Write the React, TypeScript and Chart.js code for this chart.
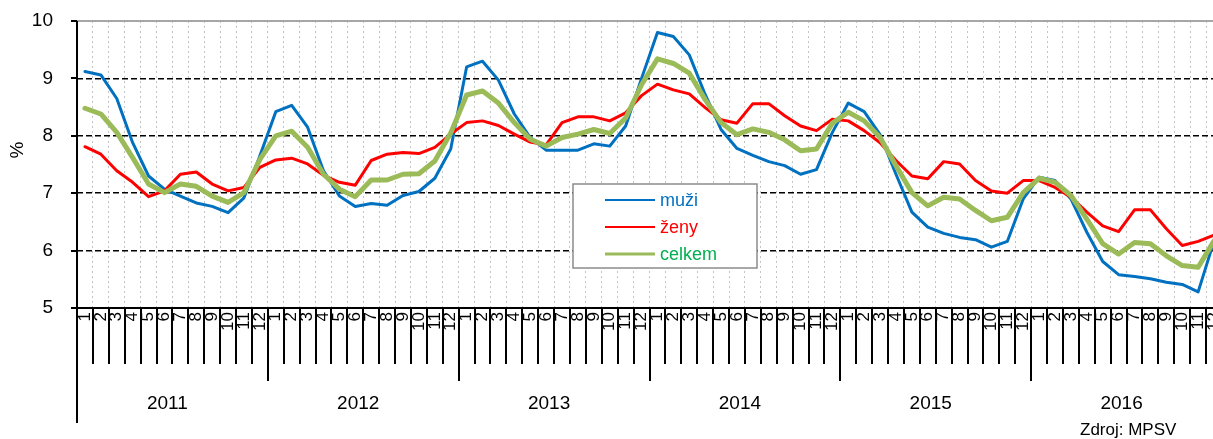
import React, { useEffect, useRef } from 'react';
import { Chart, registerables } from 'chart.js';

Chart.register(...registerables);

const YEARS = ['2011', '2012', '2013', '2014', '2015', '2016'];
const MONTHS = ['1', '2', '3', '4', '5', '6', '7', '8', '9', '10', '11', '12'];

// muži (men), % by month 2011-01 .. 2016-12
const MUZI = [
  9.12, 9.06, 8.65, 7.88, 7.30, 7.07, 6.95, 6.83, 6.77, 6.66, 6.92, 7.65,
  8.42, 8.53, 8.15, 7.39, 6.95, 6.77, 6.82, 6.79, 6.96, 7.03, 7.26, 7.77,
  9.20, 9.30, 8.97, 8.38, 7.97, 7.75, 7.75, 7.75, 7.86, 7.82, 8.17, 9.00,
  9.80, 9.73, 9.41, 8.72, 8.11, 7.78, 7.66, 7.55, 7.48, 7.33, 7.41, 8.06,
  8.57, 8.42, 8.02, 7.33, 6.67, 6.41, 6.30, 6.23, 6.19, 6.06, 6.16, 6.90,
  7.28, 7.22, 6.90, 6.32, 5.81, 5.58, 5.55, 5.51, 5.45, 5.41, 5.28, 6.17,
];
// ženy (women)
const ZENY = [
  7.81, 7.68, 7.39, 7.19, 6.94, 7.04, 7.33, 7.37, 7.16, 7.04, 7.10, 7.45,
  7.58, 7.61, 7.51, 7.31, 7.19, 7.14, 7.57, 7.68, 7.71, 7.69, 7.80, 8.03,
  8.23, 8.26, 8.18, 8.03, 7.89, 7.84, 8.23, 8.33, 8.33, 8.26, 8.40, 8.70,
  8.90, 8.80, 8.73, 8.49, 8.28, 8.22, 8.56, 8.56, 8.35, 8.17, 8.09, 8.29,
  8.26, 8.09, 7.88, 7.57, 7.30, 7.25, 7.55, 7.51, 7.22, 7.04, 7.00, 7.22,
  7.22, 7.10, 6.93, 6.67, 6.43, 6.33, 6.71, 6.71, 6.38, 6.09, 6.16, 6.27,
];
// celkem (total)
const CELKEM = [
  8.48, 8.38, 8.06, 7.62, 7.16, 7.01, 7.16, 7.12, 6.95, 6.84, 7.01, 7.59,
  8.00, 8.08, 7.80, 7.33, 7.07, 6.94, 7.23, 7.23, 7.33, 7.34, 7.56, 8.05,
  8.71, 8.78, 8.57, 8.23, 7.94, 7.82, 7.97, 8.03, 8.11, 8.04, 8.31, 8.89,
  9.34, 9.26, 9.09, 8.63, 8.23, 8.02, 8.12, 8.06, 7.93, 7.74, 7.77, 8.22,
  8.41, 8.26, 7.97, 7.48, 7.01, 6.78, 6.93, 6.90, 6.70, 6.52, 6.58, 7.01,
  7.26, 7.19, 6.96, 6.55, 6.12, 5.94, 6.14, 6.12, 5.91, 5.74, 5.71, 6.17,
];

const SERIES_NAMES = ['muži', 'ženy', 'celkem'];
const Y_MIN = 5;
const Y_MAX = 10;
const Y_STEP = 1;
const Y_TITLE = '%';
const SOURCE = 'Zdroj: MPSV';

const FONT = '"Liberation Sans", Arial, sans-serif';
const BLUE = '#0070C0';
const RED = '#FF0000';
const GREEN = '#9BBB59';
const GREEN_TEXT = '#00B050';

const CATEGORIES = YEARS.flatMap(() => MONTHS);

const decorPlugin = {
  id: 'decor',
  afterDraw(chart: any) {
    const { ctx, chartArea: a } = chart;
    const x = chart.scales.x;
    const y = chart.scales.y;
    const n = CATEGORIES.length;
    const w = (a.right - a.left) / n;
    ctx.save();
    ctx.setLineDash([]);
    // top border line (value 10)
    ctx.strokeStyle = '#a6a6a6';
    ctx.lineWidth = 2;
    ctx.beginPath();
    ctx.moveTo(a.left, a.top);
    ctx.lineTo(a.right, a.top);
    ctx.stroke();
    // x axis line
    ctx.strokeStyle = '#000';
    ctx.lineWidth = 2;
    ctx.beginPath();
    ctx.moveTo(a.left, a.bottom);
    ctx.lineTo(a.right, a.bottom);
    ctx.stroke();
    // y axis line, extended down through the category area
    ctx.beginPath();
    ctx.moveTo(a.left, a.top);
    ctx.lineTo(a.left, 423);
    ctx.stroke();
    // y tick marks
    y.ticks.forEach((t: any) => {
      const yy = Math.round(y.getPixelForValue(t.value));
      ctx.beginPath();
      ctx.moveTo(a.left - 6, yy);
      ctx.lineTo(a.left, yy);
      ctx.stroke();
    });
    // category tick marks
    for (let k = 1; k <= n; k++) {
      const xx = Math.round(a.left + k * w);
      const end = k % MONTHS.length === 0 ? 381 : 364;
      ctx.beginPath();
      ctx.moveTo(xx, a.bottom);
      ctx.lineTo(xx, end);
      ctx.stroke();
    }
    // year labels
    ctx.fillStyle = '#000';
    ctx.font = `19px ${FONT}`;
    ctx.textAlign = 'center';
    ctx.textBaseline = 'middle';
    YEARS.forEach((yr, j) => {
      const first = x.getPixelForValue(j * MONTHS.length);
      const last = x.getPixelForValue(j * MONTHS.length + MONTHS.length - 1);
      ctx.fillText(yr, (first + last) / 2 - 5, 404);
    });
    // y title
    ctx.save();
    ctx.translate(18, 150);
    ctx.rotate(-Math.PI / 2);
    ctx.font = `19px ${FONT}`;
    ctx.fillText(Y_TITLE, 0, 0);
    ctx.restore();
    // source
    ctx.font = `17px ${FONT}`;
    ctx.textAlign = 'left';
    ctx.textBaseline = 'alphabetic';
    ctx.fillText(SOURCE, 1080, 435);
    // legend box
    const bx = 573, by = 184, bw = 184, bh = 84;
    ctx.fillStyle = '#fff';
    ctx.fillRect(bx, by, bw, bh);
    ctx.strokeStyle = '#8c8c8c';
    ctx.lineWidth = 1.5;
    ctx.strokeRect(bx, by, bw, bh);
    const lineColors = [BLUE, RED, GREEN];
    const textColors = [BLUE, RED, GREEN_TEXT];
    const widths = [2, 2, 3];
    SERIES_NAMES.forEach((name, i) => {
      const yy = 200 + i * 27;
      ctx.strokeStyle = lineColors[i];
      ctx.lineWidth = widths[i];
      ctx.beginPath();
      ctx.moveTo(605, yy);
      ctx.lineTo(655, yy);
      ctx.stroke();
      ctx.fillStyle = textColors[i];
      ctx.font = `18px ${FONT}`;
      ctx.textBaseline = 'middle';
      ctx.fillText(name, 660, yy + 1);
    });
    ctx.restore();
  },
};

export default function App() {
  const ref = useRef<HTMLCanvasElement>(null);
  useEffect(() => {
    if (!ref.current) return;
    const chart = new Chart(ref.current, {
      type: 'line',
      data: {
        labels: CATEGORIES,
        datasets: [
          { label: SERIES_NAMES[0], data: MUZI, borderColor: BLUE, borderWidth: 3, order: 2 },
          { label: SERIES_NAMES[1], data: ZENY, borderColor: RED, borderWidth: 3, order: 1 },
          { label: SERIES_NAMES[2], data: CELKEM, borderColor: GREEN, borderWidth: 5, order: 0 },
        ].map((d) => ({
          ...d,
          pointRadius: 0,
          pointHoverRadius: 0,
          tension: 0,
          fill: false,
          borderJoinStyle: 'round' as const,
          borderCapStyle: 'round' as const,
        })),
      },
      options: {
        responsive: false,
        animation: false,
        devicePixelRatio: 1,
        layout: { padding: { top: 21, right: 18, left: 0, bottom: 0 } },
        plugins: {
          legend: { display: false },
          title: { display: false },
          tooltip: { enabled: false },
        },
        scales: {
          x: {
            type: 'category',
            offset: true,
            grid: {
              offset: true,
              drawTicks: false,
              color: '#c4c4c4',
              lineWidth: 1,
            },
            border: { display: false, dash: [2, 3] },
            ticks: {
              autoSkip: false,
              minRotation: 90,
              maxRotation: 90,
              padding: 4,
              color: '#000',
              font: { family: FONT, size: 17 },
            },
            afterFit: (s: any) => {
              s.height = 131;
            },
          },
          y: {
            min: Y_MIN,
            max: Y_MAX,
            ticks: {
              stepSize: Y_STEP,
              padding: 0,
              color: '#000',
              font: { family: FONT, size: 19 },
            },
            grid: {
              color: (c: any) =>
                c.tick && (c.tick.value === Y_MAX || c.tick.value === Y_MIN) ? 'rgba(0,0,0,0)' : '#000',
              lineWidth: 1.5,
              tickLength: 24,
              tickColor: 'rgba(0,0,0,0)',
            },
            border: { display: false, dash: [6, 3] },
            afterFit: (s: any) => {
              s.width = 77;
            },
          },
        },
      },
      plugins: [decorPlugin],
    });
    return () => chart.destroy();
  }, []);

  return (
    <div
      style={{
        position: 'absolute',
        left: 0,
        top: 0,
        width: 1213,
        height: 439,
        overflow: 'hidden',
        background: '#fff',
      }}
    >
      <canvas ref={ref} width={1240} height={439} style={{ width: 1240, height: 439, display: 'block' }} />
    </div>
  );
}
